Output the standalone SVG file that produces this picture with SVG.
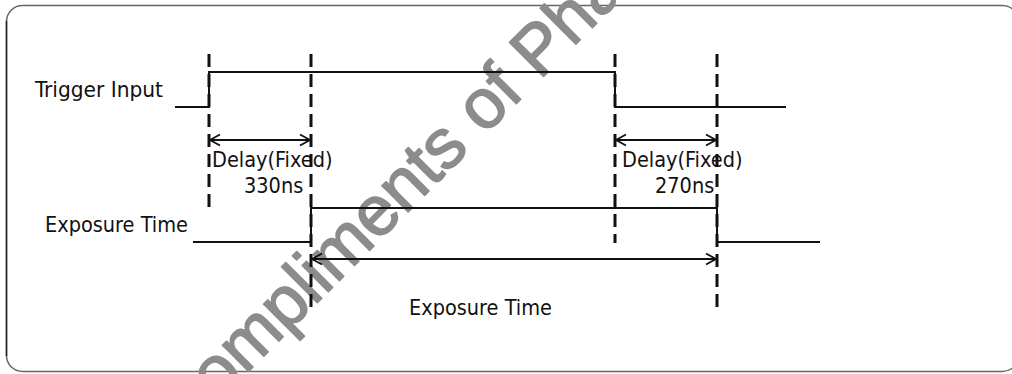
<svg xmlns="http://www.w3.org/2000/svg" width="1012" height="374" viewBox="0 0 1012 374">
  <style>
    .lbl { font-family: "DejaVu Sans Condensed", "DejaVu Sans", sans-serif; font-stretch: condensed; font-size: 21.5px; fill: #111; }
    .sig { stroke: #111; stroke-width: 2; fill: none; }
    .dash { stroke: #111; stroke-width: 3; stroke-dasharray: 13 7; fill: none; }
    .arr { stroke: #111; stroke-width: 1.8; fill: none; marker-start: url(#ah); marker-end: url(#ah); }
    .wm { font-family: "Liberation Sans", Arial, sans-serif; font-size: 70px; fill: #8c8c8c; stroke: #8c8c8c; stroke-width: 1.6; stroke-linejoin: round; }
  </style>
  <defs>
    <marker id="ah" markerUnits="userSpaceOnUse" viewBox="-12 -7 14 14" markerWidth="14" markerHeight="14" refX="0" refY="0" orient="auto-start-reverse">
      <path d="M-10,-5.5 L0,0 L-10,5.5" fill="none" stroke="#111" stroke-width="1.8"/>
    </marker>
  </defs>
  <rect x="0" y="0" width="1012" height="374" fill="#fff"/>
  <g id="frame">
    <rect x="6.5" y="5.5" width="1012" height="366" rx="16" ry="16" fill="none" stroke="#666" stroke-width="1.5"/>
    <line x1="6.5" y1="21" x2="6.5" y2="356" stroke="#222" stroke-width="1.5"/>
  </g>
  <g id="watermark">
    <text class="wm" x="182" y="438" transform="rotate(-45 182 438)">Compliments of Pha</text>
  </g>
  <g id="trigger-signal">
    <text class="lbl" x="35" y="97" textLength="128" lengthAdjust="spacingAndGlyphs">Trigger Input</text>
    <polyline class="sig" points="175,107 209,107 209,72 615,72 615,107 786,107"/>
  </g>
  <g id="exposure-signal">
    <text class="lbl" x="45" y="232">Exposure Time</text>
    <polyline class="sig" points="193,242 311,242 311,208 717,208 717,242 820,242"/>
  </g>
  <g id="delay1">
    <text class="lbl" x="212" y="167">Delay(Fixed)</text>
    <text class="lbl" x="244" y="193">330ns</text>
  </g>
  <g id="delay2">
    <text class="lbl" x="622" y="167">Delay(Fixed)</text>
    <text class="lbl" x="655" y="193">270ns</text>
  </g>
  <g id="exposure-label">
    <text class="lbl" x="409" y="315">Exposure Time</text>
  </g>
  <g id="connectors">
    <line class="dash" x1="209" y1="54" x2="209" y2="208"/>
    <line class="dash" x1="311" y1="54" x2="311" y2="310"/>
    <line class="dash" x1="615" y1="54" x2="615" y2="243"/>
    <line class="dash" x1="717" y1="54" x2="717" y2="310"/>
    <line class="arr" x1="210" y1="140" x2="310" y2="140"/>
    <line class="arr" x1="616" y1="140" x2="716" y2="140"/>
    <line class="arr" x1="312" y1="259" x2="716" y2="259"/>
  </g>
</svg>
